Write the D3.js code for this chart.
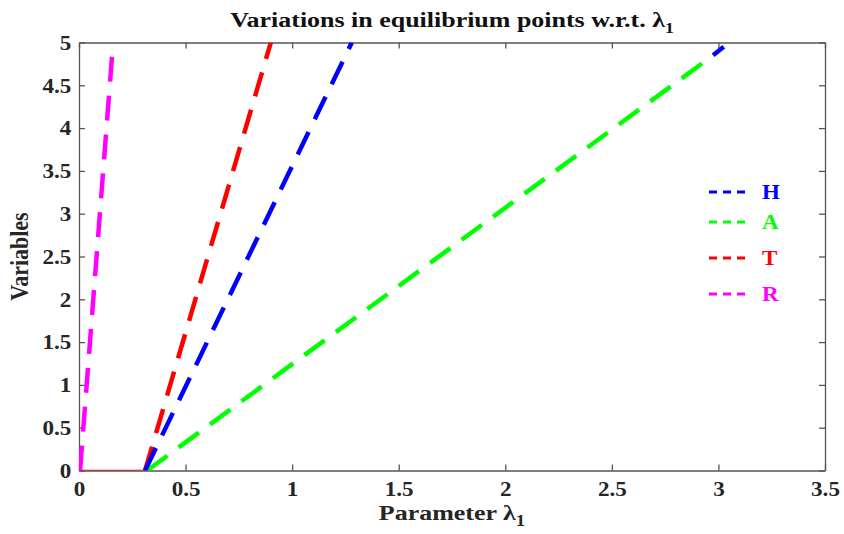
<!DOCTYPE html>
<html>
<head>
<meta charset="utf-8">
<script src="https://cdn.jsdelivr.net/npm/d3@7"></script>
<style>
  body { margin: 0; background: #fff; }
  text { font-family: "Liberation Serif", "Times New Roman", serif; font-weight: bold; }
</style>
</head>
<body>
<div id="chart"></div>
<script>
// values (lambda_1 vs equilibrium value)
var xTicks = [0, 0.5, 1, 1.5, 2, 2.5, 3, 3.5];
var yTicks = [0, 0.5, 1, 1.5, 2, 2.5, 3, 3.5, 4, 4.5, 5];

var seriesH = [[0.31, 0], [1.28, 5]];
var seriesHTail = [[2.975, 4.85], [3.025, 4.95]];
var seriesA = [[0.32, 0], [2.975, 4.85]];
var seriesT = [[0.31, 0], [0.90, 5]];
var seriesTZero = [[0, 0], [0.31, 0]];
var seriesR = [[0.005, 0], [0.16, 5]];

var legendNames = ["H", "A", "T", "R"];
var legendColors = ["#0000ff", "#00ff00", "#ff0000", "#ff00ff"];

var W = 844, H = 534;
var margin = { top: 42.5, right: 19, bottom: 63.5, left: 79 },
  width = W - margin.left - margin.right,
  height = H - margin.top - margin.bottom;

// the original picture is a bit wider than tall, so text gets a small x-stretch
var stretch = 1.18;

var svg = d3.select("#chart").append("svg")
  .attr("width", W)
  .attr("height", H);

var g = svg.append("g")
  .attr("transform", "translate(" + margin.left + "," + margin.top + ")");

var x = d3.scaleLinear().domain([0, 3.5]).range([0, width]);
var y = d3.scaleLinear().domain([0, 5]).range([height, 0]);

svg.append("defs").append("clipPath").attr("id", "clip")
  .append("rect").attr("width", width).attr("height", height);

var axisColor = "#555";
var fmt = function(d) { return d3.format("")(d); };

// bottom / left axes with labels, ticks pointing inward
var xAxis = g.append("g")
  .attr("transform", "translate(0," + height + ")")
  .call(d3.axisBottom(x).tickValues(xTicks).tickFormat(fmt).tickSizeInner(-6).tickSizeOuter(0).tickPadding(16));
var yAxis = g.append("g")
  .call(d3.axisLeft(y).tickValues(yTicks).tickFormat(fmt).tickSizeInner(-6).tickSizeOuter(0).tickPadding(7));
// top / right axes, ticks only
var xTop = g.append("g")
  .call(d3.axisTop(x).tickValues(xTicks).tickFormat("").tickSizeInner(-6).tickSizeOuter(0));
var yRight = g.append("g")
  .attr("transform", "translate(" + width + ",0)")
  .call(d3.axisRight(y).tickValues(yTicks).tickFormat("").tickSizeInner(-6).tickSizeOuter(0));

[xAxis, yAxis, xTop, yRight].forEach(function(a) {
  a.selectAll("path, line").attr("stroke", axisColor).attr("stroke-width", 1.3);
  a.selectAll("text").attr("fill", "#262626").style("font-size", "21px")
    .style("font-family", "'Liberation Serif', serif").style("font-weight", "bold")
    .attr("transform", "scale(1.1,1)");
});
xAxis.selectAll("text").attr("dy", "0.45em");

var line = d3.line()
  .x(function(d) { return x(d[0]); })
  .y(function(d) { return y(d[1]); });

var plot = g.append("g").attr("clip-path", "url(#clip)");

plot.append("path").datum(seriesTZero)
  .attr("d", line).attr("fill", "none")
  .attr("stroke", "#ff0000").attr("stroke-width", 1.5);

var curves = [
  { data: seriesA, color: "#00ff00" },
  { data: seriesHTail, color: "#0000ff" },
  { data: seriesR, color: "#ff00ff" },
  { data: seriesT, color: "#ff0000" },
  { data: seriesH, color: "#0000ff" }
];

curves.forEach(function(c) {
  plot.append("path").datum(c.data)
    .attr("d", line)
    .attr("fill", "none")
    .attr("stroke", c.color)
    .attr("stroke-width", 4.5)
    .attr("stroke-dasharray", "25,14");
});

// title
var title = svg.append("text")
  .attr("transform", "translate(" + (margin.left + width / 2) + ",27) scale(" + stretch + ",1)")
  .attr("text-anchor", "middle")
  .style("font-size", "22px")
  .attr("fill", "#111");
title.append("tspan").text("Variations in equilibrium points w.r.t. λ");
title.append("tspan").attr("dy", 6).style("font-size", "15px").text("1");

// x label
var xl = svg.append("text")
  .attr("transform", "translate(" + (margin.left + width / 2) + ",520) scale(" + stretch + ",1)")
  .attr("text-anchor", "middle")
  .style("font-size", "22px")
  .attr("fill", "#262626");
xl.append("tspan").text("Parameter λ");
xl.append("tspan").attr("dy", 6).style("font-size", "16px").text("1");

// y label
svg.append("text")
  .attr("transform", "translate(28," + (margin.top + height / 2) + ") scale(" + stretch + ",1) rotate(-90)")
  .attr("text-anchor", "middle")
  .style("font-size", "22px")
  .attr("fill", "#262626")
  .text("Variables");

// legend
var legend = svg.append("g")
  .attr("transform", "translate(708,192)");
var rowY = [0, 30, 66, 102];
var items = legend.selectAll(".item")
  .data(legendNames)
  .enter().append("g")
  .attr("transform", function(d, i) { return "translate(0," + rowY[i] + ")"; });
items.append("line")
  .attr("x1", 1).attr("x2", 40).attr("y1", 0).attr("y2", 0)
  .attr("stroke", function(d, i) { return legendColors[i]; })
  .attr("stroke-width", 3)
  .attr("stroke-dasharray", "8,6");
items.append("text")
  .attr("transform", "translate(54,7) scale(1.15,1)")
  .style("font-size", "20px")
  .attr("fill", function(d, i) { return legendColors[i]; })
  .text(function(d) { return d; });
</script>
</body>
</html>
